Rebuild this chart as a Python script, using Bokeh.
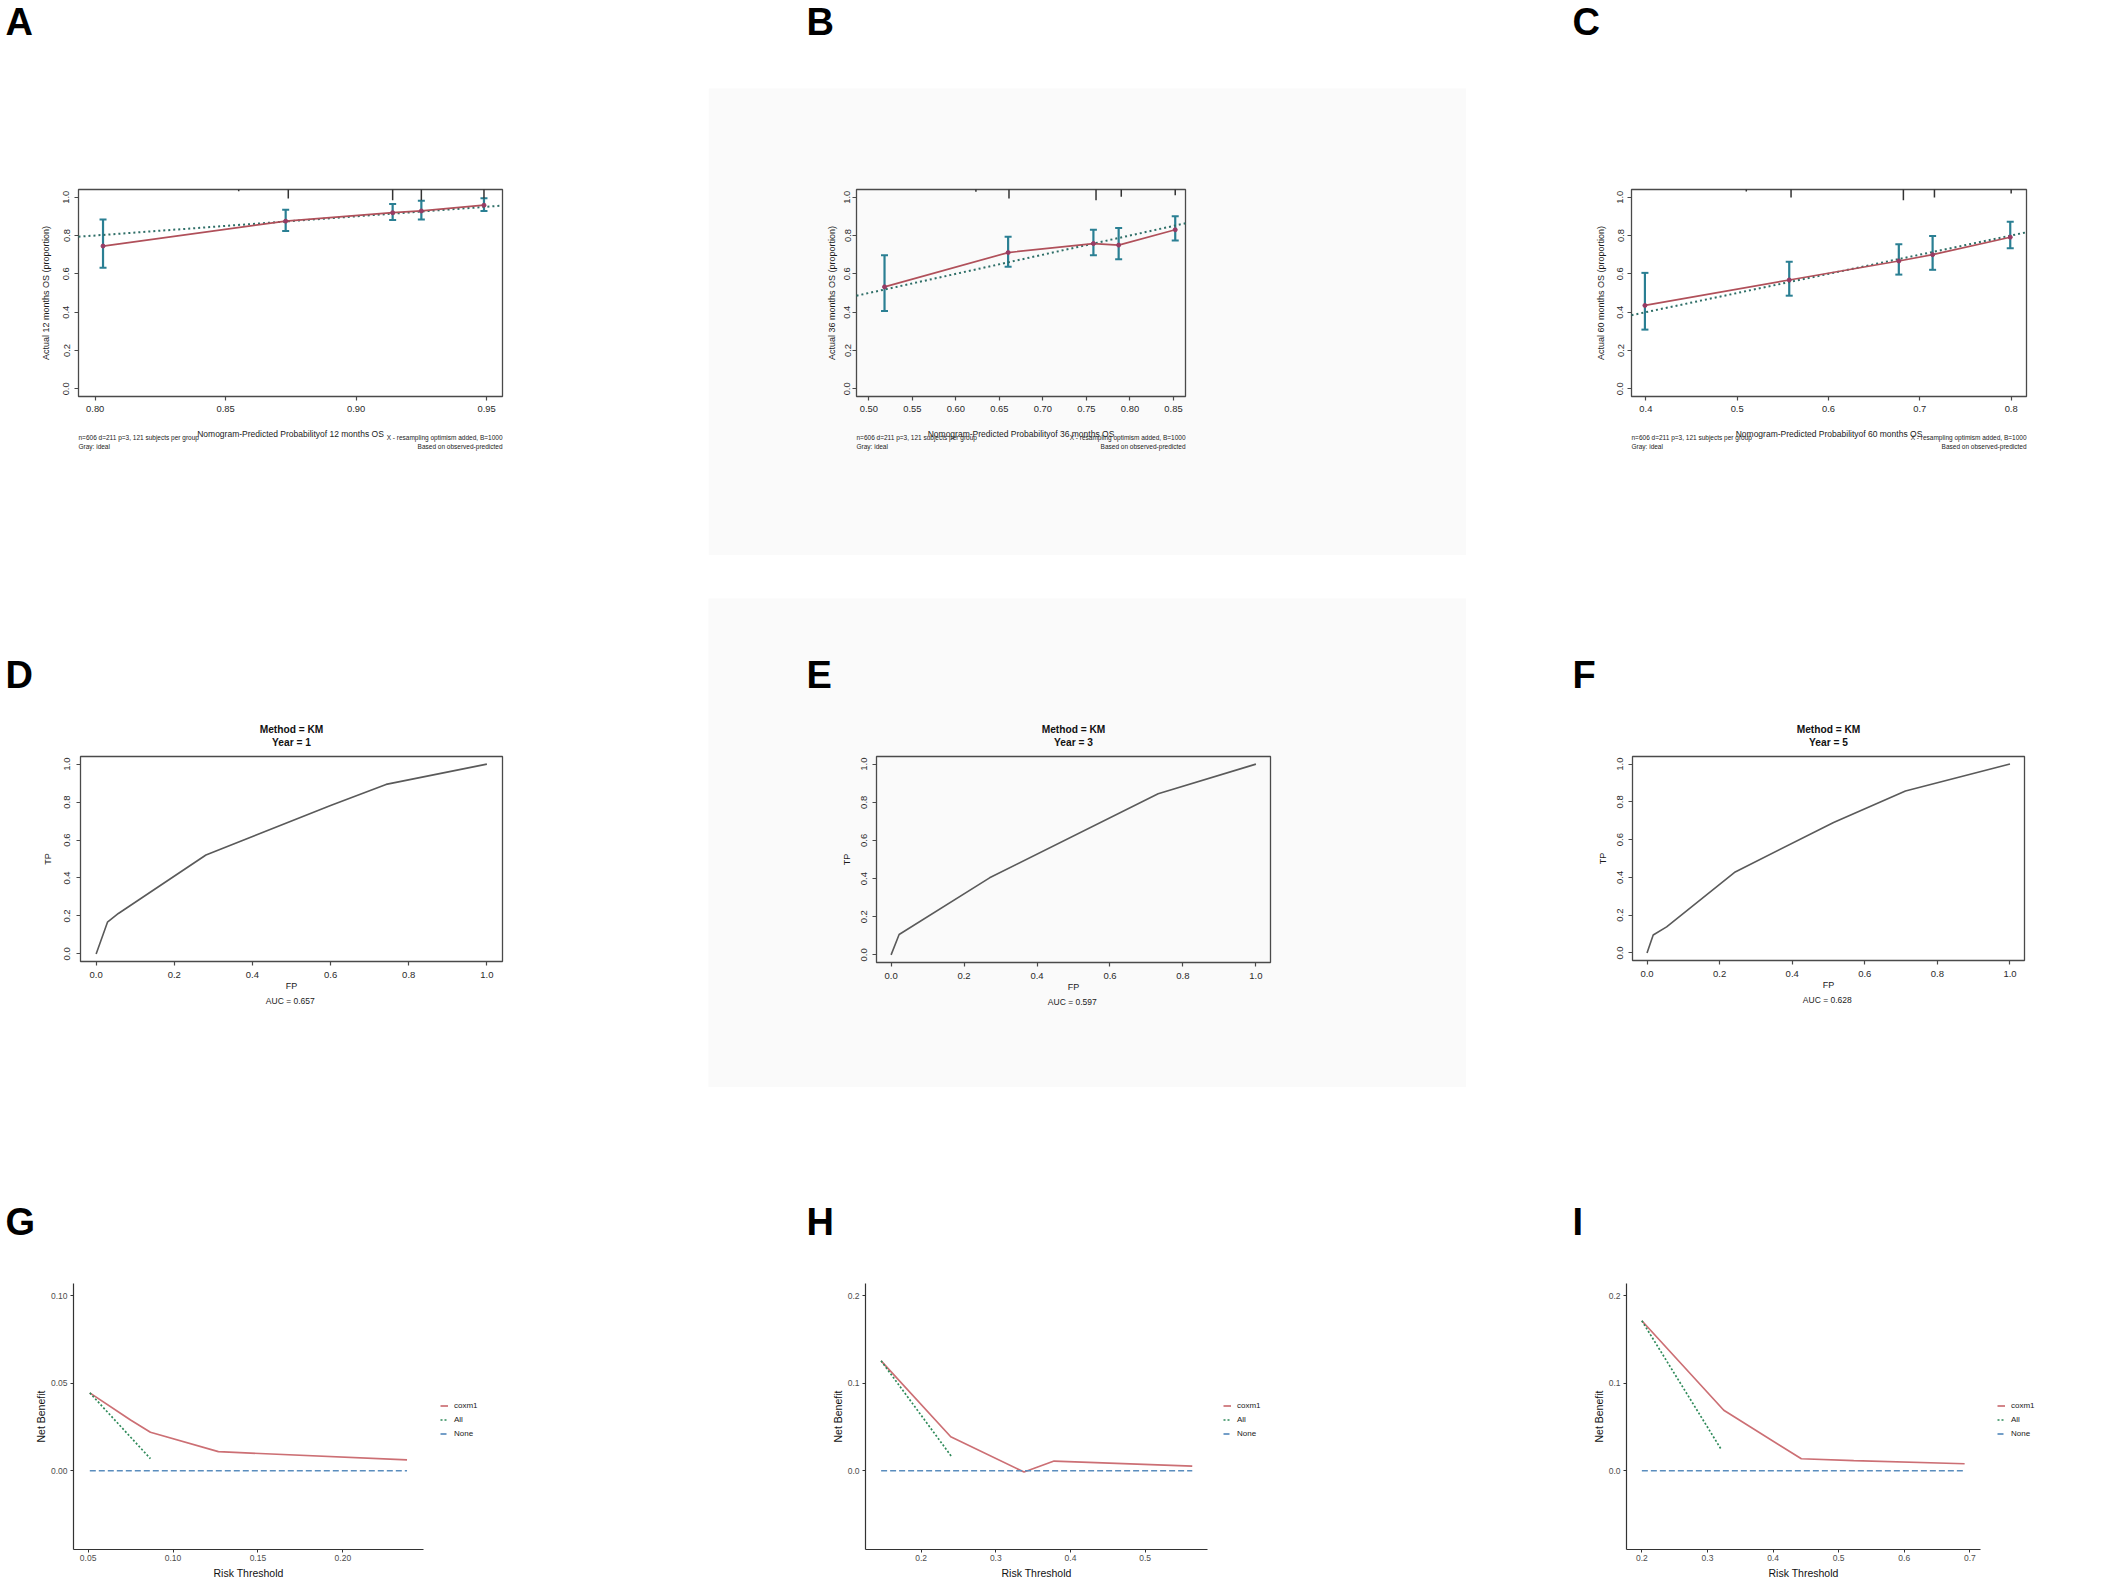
from bokeh.plotting import figure
from bokeh.models import (ColumnDataSource, Whisker, TeeHead, Label, Legend,
                          LegendItem, FixedTicker, Range1d, Spacer, PrintfTickFormatter)
from bokeh.layouts import row, column
from bokeh.embed import file_html
from bokeh.resources import INLINE

FONT = "Liberation Sans"

# ---------------- data: calibration (A-C) ----------------
cal_months = ["12", "36", "60"]
cal_yticks = [0.0, 0.2, 0.4, 0.6, 0.8, 1.0]
cal_ylim = [-0.04, 1.04]
cal_xfmt = ["%.2f", "%.2f", "%.1f"]

cal12_pred = [0.803, 0.873, 0.914, 0.925, 0.949]
cal12_obs = [0.745, 0.875, 0.919, 0.928, 0.958]
cal12_lo = [0.632, 0.823, 0.881, 0.884, 0.928]
cal12_hi = [0.884, 0.935, 0.965, 0.981, 0.995]
cal12_rug_x = [0.855, 0.874, 0.914, 0.925, 0.949]
cal12_rug_h = [0.009, 0.047, 0.056, 0.056, 0.047]
cal12_xticks = [0.80, 0.85, 0.90, 0.95]
cal12_xlim = [0.7936, 0.9561]

cal36_pred = [0.518, 0.660, 0.758, 0.787, 0.852]
cal36_obs = [0.532, 0.711, 0.758, 0.750, 0.830]
cal36_lo = [0.406, 0.637, 0.697, 0.676, 0.774]
cal36_hi = [0.697, 0.793, 0.830, 0.839, 0.900]
cal36_rug_x = [0.623, 0.661, 0.761, 0.790, 0.852]
cal36_rug_h = [0.012, 0.047, 0.056, 0.038, 0.030]
cal36_xticks = [0.50, 0.55, 0.60, 0.65, 0.70, 0.75, 0.80, 0.85]
cal36_xlim = [0.4858, 0.8638]

cal60_pred = [0.399, 0.557, 0.677, 0.714, 0.799]
cal60_obs = [0.435, 0.568, 0.667, 0.700, 0.791]
cal60_lo = [0.309, 0.486, 0.596, 0.621, 0.733]
cal60_hi = [0.605, 0.663, 0.754, 0.798, 0.872]
cal60_rug_x = [0.510, 0.559, 0.682, 0.716, 0.800]
cal60_rug_h = [0.010, 0.042, 0.056, 0.042, 0.021]
cal60_xticks = [0.4, 0.5, 0.6, 0.7, 0.8]
cal60_xlim = [0.3843, 0.8168]

cal_note_left = ["n=606 d=211 p=3, 121 subjects per group", "Gray: ideal"]
cal_note_right = ["X - resampling optimism added, B=1000", "Based on observed-predicted"]

# ---------------- data: time-dependent ROC (D-F) ----------------
roc_years = ["1", "3", "5"]
roc_auc = ["0.657", "0.597", "0.628"]
roc_ticks = [0.0, 0.2, 0.4, 0.6, 0.8, 1.0]
roc_lim = [-0.04, 1.04]
roc1_fp = [0.0, 0.029, 0.057, 0.281, 0.600, 0.742, 1.0]
roc1_tp = [0.0, 0.167, 0.213, 0.521, 0.782, 0.893, 1.0]
roc3_fp = [0.0, 0.022, 0.270, 0.732, 1.0]
roc3_tp = [0.0, 0.107, 0.404, 0.845, 1.0]
roc5_fp = [0.0, 0.017, 0.054, 0.243, 0.514, 0.712, 1.0]
roc5_tp = [0.0, 0.095, 0.138, 0.429, 0.691, 0.857, 1.0]

# ---------------- data: decision curves (G-I) ----------------
dca_series = ["coxm1", "All", "None"]
dca_fmt = ["%.2f", "%.1f", "%.1f"]

dca1_thr = [0.051, 0.075, 0.0867, 0.1267, 0.2378]
dca1_nb = [0.0445, 0.029, 0.022, 0.0109, 0.0062]
dca1_all_thr = [0.051, 0.0867]
dca1_all_nb = [0.0445, 0.0069]
dca1_xticks = [0.05, 0.10, 0.15, 0.20]
dca1_yticks = [0.00, 0.05, 0.10]
dca1_xlim = [0.0414, 0.2475]
dca1_ylim = [-0.045, 0.107]

dca3_thr = [0.1465, 0.2397, 0.3378, 0.378, 0.563]
dca3_nb = [0.1256, 0.0389, -0.0015, 0.0111, 0.0053]
dca3_all_thr = [0.1465, 0.2406]
dca3_all_nb = [0.1256, 0.0164]
dca3_xticks = [0.2, 0.3, 0.4, 0.5]
dca3_yticks = [0.0, 0.1, 0.2]
dca3_xlim = [0.1256, 0.5834]
dca3_ylim = [-0.090, 0.214]

dca5_thr = [0.200, 0.3249, 0.4431, 0.523, 0.692]
dca5_nb = [0.1714, 0.0691, 0.0137, 0.0115, 0.008]
dca5_all_thr = [0.200, 0.3213]
dca5_all_nb = [0.1714, 0.024]
dca5_xticks = [0.2, 0.3, 0.4, 0.5, 0.6, 0.7]
dca5_yticks = [0.0, 0.1, 0.2]
dca5_xlim = [0.1766, 0.7162]
dca5_ylim = [-0.090, 0.214]

panel_letters = ["A", "B", "C", "D", "E", "F", "G", "H", "I"]

# ---------------- styles ----------------
ERR_C = "#2A7F93"
CAL_RED = "#B0505A"
PT_C = "#983C64"
IDEAL_C = "#2E6E67"
ROC_C = "#5a5a5a"
DCA_COLORS = ["#CC6F74", "#2F8A5A", "#5A8DBE"]
BOX_C = "#4a4a4a"
GRAY_BG = "#fafafa"


class Panel:
    """A figure whose frame is its whole canvas; the plot box (data limits)
    sits at a chosen pixel rectangle inside it, axes are fixed to the box."""

    def __init__(self, canvas, box, xlim, ylim, bg="#ffffff"):
        self.canvas, self.box = canvas, box
        cx0, cy0, cx1, cy1 = canvas
        l, t, r, b = box
        self.sx = (xlim[1] - xlim[0]) / (r - l)
        self.sy = (ylim[1] - ylim[0]) / (b - t)
        xr = Range1d(xlim[0] - (l - cx0) * self.sx, xlim[1] + (cx1 - r) * self.sx)
        yr = Range1d(ylim[0] - (cy1 - b) * self.sy, ylim[1] + (t - cy0) * self.sy)
        p = figure(width=cx1 - cx0, height=cy1 - cy0, x_range=xr, y_range=yr,
                   output_backend="svg", toolbar_location=None,
                   min_border=0, min_border_left=0, min_border_right=0,
                   min_border_top=0, min_border_bottom=0,
                   background_fill_color=bg, border_fill_color=bg)
        p.outline_line_color = None
        p.xgrid.visible = False
        p.ygrid.visible = False
        p.xaxis.fixed_location = ylim[0]
        p.xaxis.bounds = (xlim[0], xlim[1])
        p.yaxis.fixed_location = xlim[0]
        p.yaxis.bounds = (ylim[0], ylim[1])
        self.p = p
        self.xlim, self.ylim = xlim, ylim

    def px_to_data(self, ax, ay):
        l, t, r, b = self.box
        return (self.xlim[0] + (ax - l) * self.sx, self.ylim[0] + (b - ay) * self.sy)

    def text(self, ax, ay, text, size, align="left", baseline="middle",
             style="normal", color="#222222"):
        cx0, cy0, cx1, cy1 = self.canvas
        self.p.add_layout(Label(x=ax - cx0, y=cy1 - ay, x_units="screen", y_units="screen",
                                text=text, text_font=FONT, text_font_size=f"{size}px",
                                text_align=align, text_baseline=baseline,
                                text_font_style=style, text_color=color))

    def letter(self, ax, ay, text):
        self.text(ax, ay, text, 38, baseline="middle", style="bold", color="#000000")


def r_axes(pn, xticks, yticks, xfmt, yfmt, tick_px, xlab_px, ylab_px,
           x_tick_so, x_lab_so, y_tick_so, y_lab_so):
    p = pn.p
    # R style box around the plot region
    p.quad(left=[pn.xlim[0]], right=[pn.xlim[1]], bottom=[pn.ylim[0]], top=[pn.ylim[1]],
           fill_alpha=0, line_color=BOX_C, line_width=1.3)
    p.xaxis.ticker = FixedTicker(ticks=xticks)
    p.yaxis.ticker = FixedTicker(ticks=yticks)
    p.xaxis.formatter = PrintfTickFormatter(format=xfmt)
    p.yaxis.formatter = PrintfTickFormatter(format=yfmt)
    for ax in (p.xaxis[0], p.yaxis[0]):
        ax.axis_line_color = None
        ax.major_tick_line_color = BOX_C
        ax.major_tick_line_width = 1.2
        ax.major_tick_out = 4
        ax.major_tick_in = 0
        ax.minor_tick_line_color = None
        ax.major_label_text_font = FONT
        ax.major_label_text_font_size = f"{tick_px}px"
        ax.major_label_text_color = "#2a2a2a"
        ax.axis_label_text_font = FONT
        ax.axis_label_text_font_style = "normal"
        ax.axis_label_text_color = "#1a1a1a"
    p.xaxis.axis_label_text_font_size = f"{xlab_px}px"
    p.yaxis.axis_label_text_font_size = f"{ylab_px}px"
    p.xaxis.major_label_standoff = x_tick_so
    p.xaxis.axis_label_standoff = x_lab_so
    p.yaxis.major_label_standoff = y_tick_so
    p.yaxis.axis_label_standoff = y_lab_so
    p.yaxis.major_label_orientation = "vertical"


def cal_panel(canvas, box, months, pred, obs, lo, hi, rug_x, rug_h,
              xticks, xlim, xfmt, y_tick_so, y_lab_so, gray_from=None):
    pn = Panel(canvas, box, xlim, cal_ylim)
    p = pn.p
    if gray_from is not None:
        x0, y0, x1, y1 = gray_from
        d0 = pn.px_to_data(x0, y1)
        d1 = pn.px_to_data(x1, y0)
        p.quad(left=[d0[0]], right=[d1[0]], bottom=[d0[1]], top=[d1[1]],
               fill_color=GRAY_BG, line_color=None, level="underlay")
    r_axes(pn, xticks, cal_yticks, xfmt, "%.1f", 9.4, 8.5, 9, 5, 14, y_tick_so, y_lab_so)
    p.xaxis.axis_label = f"Nomogram-Predicted Probabilityof {months} months OS"
    p.yaxis.axis_label = f"Actual {months} months OS (proportion)"
    # ideal line y = x across the plot region
    p.line(xlim, xlim, line_color=IDEAL_C, line_dash="2 3", line_width=2)
    # spike histogram of predictions along the top border
    top = cal_ylim[1]
    p.segment(x0=rug_x, y0=[top] * len(rug_x), x1=rug_x,
              y1=[top - h for h in rug_h], line_color="#333333", line_width=1.5)
    src = ColumnDataSource(dict(x=pred, y=obs, lo=lo, hi=hi))
    p.line("x", "y", source=src, line_color=CAL_RED, line_width=1.7)
    p.add_layout(Whisker(source=src, base="x", upper="hi", lower="lo",
                         line_color=ERR_C, line_width=2.2,
                         upper_head=TeeHead(size=7, line_color=ERR_C, line_width=2),
                         lower_head=TeeHead(size=7, line_color=ERR_C, line_width=2)))
    p.scatter("x", "y", source=src, size=4, color=PT_C)
    l, t, r, b = box
    pn.text(l, 436.5, cal_note_left[0], 6.5)
    pn.text(l, 445.5, cal_note_left[1], 6.5)
    pn.text(r, 436.5, cal_note_right[0], 6.5, align="right")
    pn.text(r, 445.5, cal_note_right[1], 6.5, align="right")
    return pn


def roc_panel(canvas, box, year, auc, fp, tp, y_tick_so, y_lab_so, bg="#ffffff"):
    pn = Panel(canvas, box, roc_lim, roc_lim, bg)
    p = pn.p
    r_axes(pn, roc_ticks, roc_ticks, "%.1f", "%.1f", 9.5, 9, 9, 6, 0, y_tick_so, y_lab_so)
    p.xaxis.axis_label = "FP"
    p.yaxis.axis_label = "TP"
    p.line(fp, tp, line_color=ROC_C, line_width=1.6)
    l, t, r, b = box
    cx = (l + r) / 2
    pn.text(cx, t - 27.5, "Method = KM", 10.2, align="center", style="bold", color="#111111")
    pn.text(cx, t - 14.5, f"Year = {year}", 10.2, align="center", style="bold", color="#111111")
    pn.text(cx, b + 39, f"AUC =  {auc}", 8.5, align="center")
    return pn


def dca_panel(canvas, box, thr, nb, all_thr, all_nb, xticks, yticks, xlim, ylim, fmt,
              legend_x):
    pn = Panel(canvas, box, xlim, ylim)
    p = pn.p
    p.xaxis.ticker = FixedTicker(ticks=xticks)
    p.yaxis.ticker = FixedTicker(ticks=yticks)
    p.xaxis.formatter = PrintfTickFormatter(format=fmt)
    p.yaxis.formatter = PrintfTickFormatter(format=fmt)
    for ax in (p.xaxis[0], p.yaxis[0]):
        ax.axis_line_color = "#333333"
        ax.axis_line_width = 1.2
        ax.major_tick_line_color = "#333333"
        ax.major_tick_out = 3
        ax.major_tick_in = 0
        ax.minor_tick_line_color = None
        ax.major_label_text_font = FONT
        ax.major_label_text_font_size = "8.5px"
        ax.major_label_text_color = "#4d4d4d"
        ax.axis_label_text_font = FONT
        ax.axis_label_text_font_size = "10.5px"
        ax.axis_label_text_font_style = "normal"
        ax.axis_label_text_color = "#111111"
    p.xaxis.major_label_standoff = 2
    p.xaxis.axis_label_standoff = 3
    p.yaxis.major_label_standoff = 3
    p.yaxis.axis_label_standoff = 1
    p.xaxis.axis_label = "Risk Threshold"
    p.yaxis.axis_label = "Net Benefit"
    r1 = p.line(thr, nb, line_color=DCA_COLORS[0], line_width=1.7)
    r2 = p.line(all_thr, all_nb, line_color=DCA_COLORS[1], line_width=1.7, line_dash="2 2")
    r3 = p.line([thr[0], thr[-1]], [0, 0], line_color=DCA_COLORS[2], line_width=1.7,
                line_dash="6 3")
    cx0, cy0, cx1, cy1 = canvas
    leg = Legend(items=[LegendItem(label=dca_series[0], renderers=[r1]),
                        LegendItem(label=dca_series[1], renderers=[r2]),
                        LegendItem(label=dca_series[2], renderers=[r3])],
                 location=(legend_x - cx0, cy1 - 1440),
                 glyph_width=8, glyph_height=13, label_height=13,
                 label_standoff=6, spacing=1, padding=0, margin=0,
                 border_line_color=None, background_fill_alpha=0,
                 label_text_font=FONT, label_text_font_size="8px",
                 label_text_color="#222222")
    p.add_layout(leg)
    return pn


# ---------------- layout (screenshot pixel boxes) ----------------
C1, C2, C3 = (0, 708), (708, 1466), (1466, 2118)
R1, R2, R3 = (0, 555), (598, 1087), (1087, 1587)


def cv(c, r):
    return (c[0], r[0], c[1], r[1])


pA = cal_panel(cv(C1, R1), (78, 189, 502, 396), cal_months[0], cal12_pred, cal12_obs,
               cal12_lo, cal12_hi, cal12_rug_x, cal12_rug_h, cal12_xticks, cal12_xlim,
               cal_xfmt[0], 5, 10)
pA.letter(5, 21, panel_letters[0])
pB = cal_panel(cv(C2, R1), (856, 189, 1185, 396), cal_months[1], cal36_pred, cal36_obs,
               cal36_lo, cal36_hi, cal36_rug_x, cal36_rug_h, cal36_xticks, cal36_xlim,
               cal_xfmt[1], 2, 5, gray_from=(708, 88, 1466, 555))
pB.letter(806, 21, panel_letters[1])
pC = cal_panel(cv(C3, R1), (1631, 189, 2026, 396), cal_months[2], cal60_pred, cal60_obs,
               cal60_lo, cal60_hi, cal60_rug_x, cal60_rug_h, cal60_xticks, cal60_xlim,
               cal_xfmt[2], 4, 9)
pC.letter(1572, 21, panel_letters[2])

pD = roc_panel(cv(C1, R2), (80, 756, 502, 961), roc_years[0], roc_auc[0], roc1_fp, roc1_tp, 6, 9)
pD.letter(5, 674, panel_letters[3])
pE = roc_panel(cv(C2, R2), (876, 756, 1270, 962), roc_years[1], roc_auc[1], roc3_fp, roc3_tp,
               5, 7, bg=GRAY_BG)
pE.letter(806, 674, panel_letters[4])
pF = roc_panel(cv(C3, R2), (1632, 756, 2024, 960), roc_years[2], roc_auc[2], roc5_fp, roc5_tp,
               5, 7)
pF.letter(1572, 674, panel_letters[5])

pG = dca_panel(cv(C1, R3), (73, 1283, 423, 1549), dca1_thr, dca1_nb, dca1_all_thr, dca1_all_nb,
               dca1_xticks, dca1_yticks, dca1_xlim, dca1_ylim, dca_fmt[0], 440)
pG.letter(5, 1221, panel_letters[6])
pH = dca_panel(cv(C2, R3), (865, 1283, 1207, 1549), dca3_thr, dca3_nb, dca3_all_thr,
               dca3_all_nb, dca3_xticks, dca3_yticks, dca3_xlim, dca3_ylim, dca_fmt[1], 1223)
pH.letter(806, 1221, panel_letters[7])
pI = dca_panel(cv(C3, R3), (1626, 1283, 1980, 1549), dca5_thr, dca5_nb, dca5_all_thr,
               dca5_all_nb, dca5_xticks, dca5_yticks, dca5_xlim, dca5_ylim, dca_fmt[2], 1997)
pI.letter(1572, 1221, panel_letters[8])

layout = column(
    row(pA.p, pB.p, pC.p, spacing=0),
    Spacer(width=C3[1] - C1[0], height=R2[0] - R1[1]),
    row(pD.p, pE.p, pF.p, spacing=0),
    row(pG.p, pH.p, pI.p, spacing=0),
    spacing=0,
)

open("out.html", "w").write(file_html(layout, INLINE))
